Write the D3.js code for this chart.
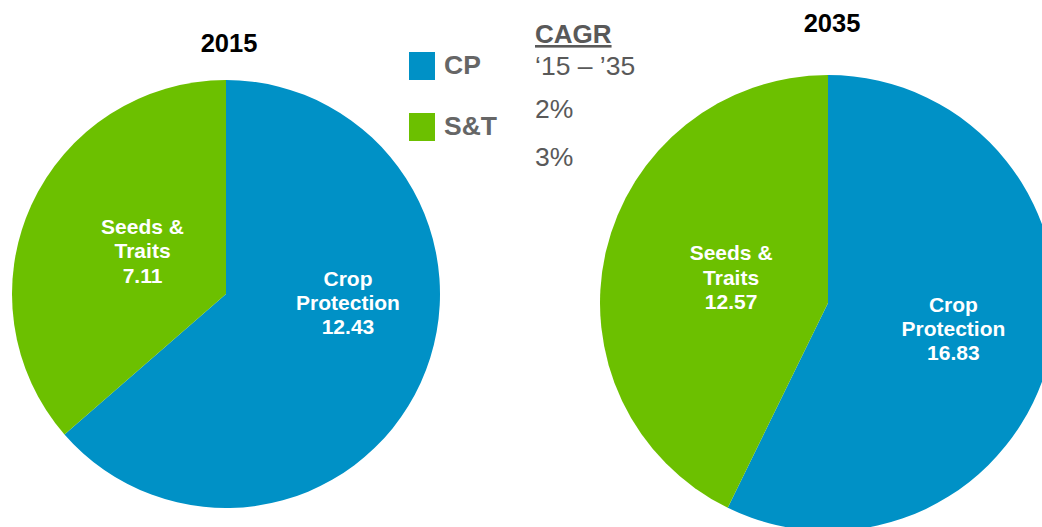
<!DOCTYPE html>
<html>
<head>
<meta charset="utf-8">
<script src="https://cdn.jsdelivr.net/npm/d3@7"></script>
<style>
  body { margin: 0; background: #fff; }
  svg { display: block; font-family: Arial, "Liberation Sans", sans-serif; }
</style>
</head>
<body>
<div id="chart"></div>
<script>
// data
var years = ["2015", "2035"];
var segments = ["Crop Protection", "Seeds & Traits"];
var labelLines = [["Crop", "Protection"], ["Seeds &", "Traits"]];
var cpValues = [12.43, 16.83];
var stValues = [7.11, 12.57];
var legendKeys = ["CP", "S&T"];
var cagrValues = ["2%", "3%"];

var width = 1042, height = 527;
var blue = "#0091c6", green = "#6cc000";
var colour = d3.scaleOrdinal().domain(segments).range([blue, green]);

var svg = d3.select("#chart").append("svg")
  .attr("width", width)
  .attr("height", height);

// pie layout (position / size of each pie)
var pies = [
  { cx: 226, cy: 294, r: 214, titleX: 229, titleY: 52,
    lbl: [[0.57, 0.042], [-0.39, -0.2]] },
  { cx: 828, cy: 303, r: 228, titleX: 832, titleY: 32,
    lbl: [[0.55, 0.114], [-0.425, -0.11]] }
];

var pie = d3.pie().sort(null).value(function(d) { return d.value; });

years.forEach(function(year, i) {
  var p = pies[i];
  var data = [
    { name: segments[0], value: cpValues[i], lines: labelLines[0] },
    { name: segments[1], value: stValues[i], lines: labelLines[1] }
  ];
  var arc = d3.arc().innerRadius(0).outerRadius(p.r);

  var g = svg.append("g")
    .attr("transform", "translate(" + p.cx + "," + p.cy + ")");

  g.selectAll("path")
    .data(pie(data))
    .enter().append("path")
    .attr("d", arc)
    .attr("fill", function(d) { return colour(d.data.name); });

  // slice labels
  var labels = g.selectAll("text.lbl")
    .data(pie(data))
    .enter().append("text")
    .attr("class", "lbl")
    .attr("text-anchor", "middle")
    .attr("font-size", 21)
    .attr("font-weight", "bold")
    .attr("fill", "#fff");

  labels.each(function(d, j) {
    var x = p.lbl[j][0] * p.r, y = p.lbl[j][1] * p.r;
    var t = d3.select(this);
    var lines = d.data.lines.concat([d3.format(".2f")(d.data.value)]);
    lines.forEach(function(line, k) {
      t.append("tspan")
        .attr("x", x)
        .attr("y", y + 7 + (k - 1) * 24.5)
        .text(line);
    });
  });

  // year title
  svg.append("text")
    .attr("x", p.titleX)
    .attr("y", p.titleY)
    .attr("text-anchor", "middle")
    .attr("font-size", 25.5)
    .attr("font-weight", "bold")
    .attr("fill", "#000")
    .text(year);
});

// legend
var legend = svg.append("g").attr("id", "legend");
legendKeys.forEach(function(key, i) {
  var y = 52 + i * 61;
  legend.append("rect")
    .attr("x", 409)
    .attr("y", y)
    .attr("width", 26)
    .attr("height", 28)
    .attr("fill", colour(segments[i]));
  legend.append("text")
    .attr("x", 444)
    .attr("y", y + 22)
    .attr("font-size", 26.5)
    .attr("font-weight", "bold")
    .attr("fill", "#666")
    .text(key);
});

// CAGR column
var cagr = svg.append("g").attr("id", "cagr");
cagr.append("text")
  .attr("x", 535)
  .attr("y", 43)
  .attr("font-size", 26)
  .attr("font-weight", "bold")
  .attr("fill", "#595959")
  .attr("text-decoration", "underline")
  .text("CAGR");
cagr.append("text")
  .attr("x", 535)
  .attr("y", 75)
  .attr("font-size", 26.5)
  .attr("fill", "#595959")
  .text("\u201815 \u2013 \u201935");
cagrValues.forEach(function(v, i) {
  cagr.append("text")
    .attr("x", 535)
    .attr("y", 118 + i * 48)
    .attr("font-size", 26.5)
    .attr("fill", "#595959")
    .text(v);
});
</script>
</body>
</html>
